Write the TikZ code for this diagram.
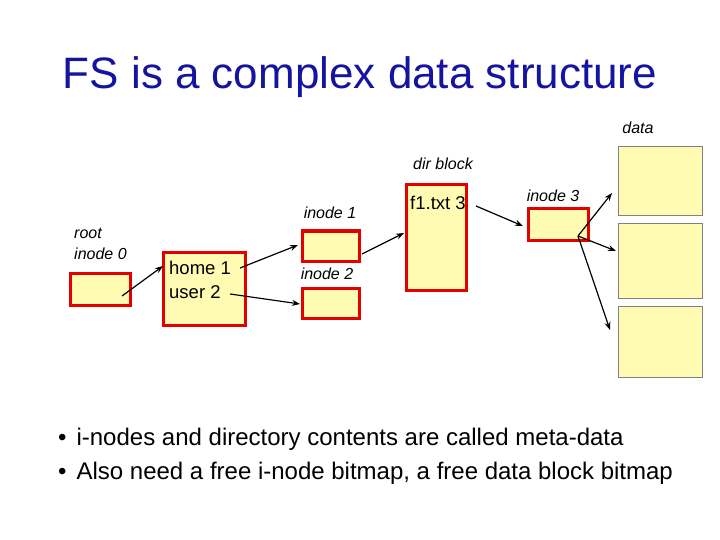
\documentclass[tikz,border=0pt]{standalone}
\usepackage{fontspec}
\setmainfont{Liberation Sans}
\usetikzlibrary{arrows.meta}
\definecolor{tblue}{RGB}{20,20,160}
\begin{document}
\begin{tikzpicture}[x=1pt,y=-1pt,
  box/.style={draw=red!90!black,line width=3pt,fill=yellow!30},
  dbox/.style={draw=gray,line width=0.6pt,fill=yellow!30},
  lab/.style={font=\fontsize{16}{19}\selectfont\itshape,inner sep=0pt},
  arr/.style={-{Stealth[length=8pt,width=6pt]},line width=1.2pt},
  txt/.style={font=\fontsize{18.5}{22}\selectfont,inner sep=0pt,anchor=west}]
\useasboundingbox (0,0) rectangle (720,540);
\node[font=\fontsize{44}{50}\selectfont,text=tblue] (title) at (360,77) {FS is a complex data structure};
\node[lab] (ldata) at (638,128) {data};
\node[lab] (ldir) at (443,164) {dir block};
\node[lab] (li1) at (330,213) {inode 1};
\node[lab,anchor=west] (lroot) at (74,233) {root};
\node[lab,anchor=west] (li0) at (74,254) {inode 0};
\node[lab] (li2) at (327,274) {inode 2};
\node[lab] (li3) at (553,196) {inode 3};
\draw[box] (70,273) rectangle (130,305);
\draw[box] (163,252) rectangle (245,325);
\draw[box] (302,231) rectangle (359,261);
\draw[box] (302,288) rectangle (359,318);
\draw[box] (406,185) rectangle (466,290);
\draw[box] (528,209) rectangle (588,240);
\draw[dbox] (618,146) rectangle (702,215);
\draw[dbox] (618,223) rectangle (702,298);
\draw[dbox] (618,306) rectangle (702,377);
\node[txt] (home) at (169,268) {home 1};
\node[txt] (user) at (169,292) {user 2};
\node[txt] (f1) at (410,203) {f1.txt 3};
\coordinate (a0) at (122,296); \coordinate (a1) at (163,266);
\coordinate (h0) at (240,268); \coordinate (h1) at (298,245);
\coordinate (u0) at (230,294); \coordinate (u1) at (300,304);
\coordinate (i0) at (362,254); \coordinate (i1) at (404,233);
\coordinate (f0) at (476,206); \coordinate (f1e) at (523,226);
\coordinate (p) at (578,236);
\coordinate (d1) at (612,193); \coordinate (d2) at (616,251); \coordinate (d3) at (610,330);
\draw[arr] (a0) -- (a1);
\draw[arr] (h0) -- (h1);
\draw[arr] (u0) -- (u1);
\draw[arr] (i0) -- (i1);
\draw[arr] (f0) -- (f1e);
\draw[arr] (p) -- (d1);
\draw[arr] (p) -- (d2);
\draw[arr] (p) -- (d3);
\node[txt,font=\fontsize{24}{28}\selectfont] (b1) at (58,439) {•\hspace{10pt}i-nodes and directory contents are called meta-data};
\node[txt,font=\fontsize{24}{28}\selectfont] (b2) at (58,473) {•\hspace{10pt}Also need a free i-node bitmap, a free data block bitmap};
\end{tikzpicture}
\end{document}
